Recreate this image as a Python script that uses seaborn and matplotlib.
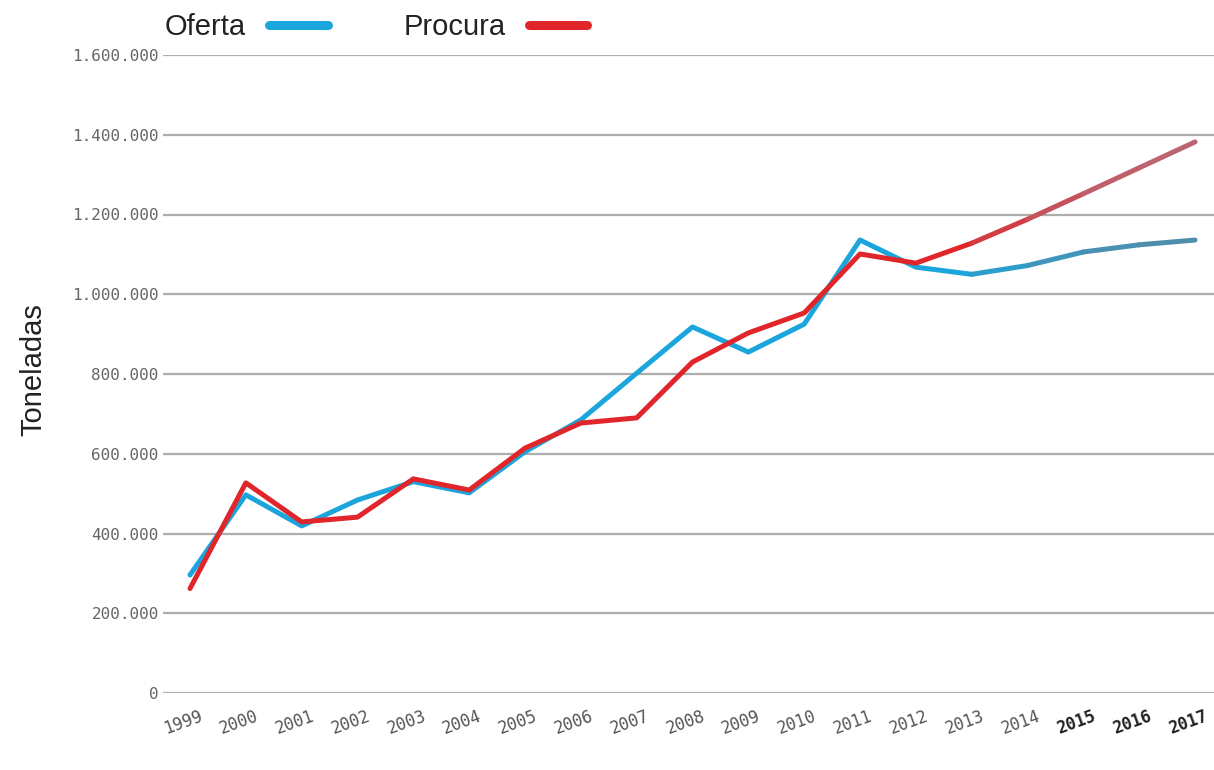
import numpy as np
import pandas as pd
import matplotlib.pyplot as plt
import matplotlib.colors as mcolors
import matplotlib.transforms as mtransforms
from matplotlib.lines import Line2D
from matplotlib.ticker import FuncFormatter
import seaborn as sns

# Values (tonnes)
years = [1999, 2000, 2001, 2002, 2003, 2004, 2005, 2006, 2007, 2008,
         2009, 2010, 2011, 2012, 2013, 2014, 2015, 2016, 2017]
oferta = [296000, 497000, 419000, 484000, 530000, 502000, 605000, 685000, 802000, 918000,
          855000, 925000, 1136000, 1068000, 1050000, 1072000, 1106000, 1124000, 1136000]
procura = [262000, 527000, 429000, 441000, 537000, 509000, 614000, 677000, 690000, 830000,
           903000, 953000, 1101000, 1078000, 1128000, 1188000, 1252000, 1317000, 1382000]
bold_years = [2015, 2016, 2017]
first_proj_year = 2013

df = pd.DataFrame({"ano": years, "Oferta": oferta, "Procura": procura})

blue, blue_fade = "#1AA6DC", "#4F8DAD"
red, red_fade = "#E0262B", "#BC6470"

sns.set_theme(style="white")
plt.rcParams["font.family"] = ["Liberation Sans", "DejaVu Sans"]

fig = plt.figure(figsize=(12.14, 7.70), dpi=100)
ax = fig.add_axes([163 / 1214, 1 - 693 / 770, 1 - 163 / 1214, (693 - 55) / 770])

hist = df[df["ano"] <= first_proj_year]
sns.lineplot(data=hist, x="ano", y="Oferta", color=blue, lw=3.6, ax=ax,
             solid_capstyle="round", solid_joinstyle="round")
sns.lineplot(data=hist, x="ano", y="Procura", color=red, lw=3.6, ax=ax,
             solid_capstyle="round", solid_joinstyle="round")

# projected years fade towards muted colours
proj = df[df["ano"] >= first_proj_year].reset_index(drop=True)
fade = [0.35, 0.7, 0.9, 1.0]
for i in range(len(proj) - 1):
    seg = proj.iloc[i:i + 2]
    t = fade[min(i, len(fade) - 1)]
    cb = (1 - t) * np.array(mcolors.to_rgb(blue)) + t * np.array(mcolors.to_rgb(blue_fade))
    cr = (1 - t) * np.array(mcolors.to_rgb(red)) + t * np.array(mcolors.to_rgb(red_fade))
    ax.plot(seg["ano"], seg["Oferta"], color=cb, lw=3.6, solid_capstyle="round")
    ax.plot(seg["ano"], seg["Procura"], color=cr, lw=3.6, solid_capstyle="round")

ax.set_xlim(1999 - 27 / 55.83, 2017 + 19 / 55.83)
ax.set_ylim(0, 1600000)
ax.set_yticks(np.arange(0, 1600001, 200000))
ax.yaxis.set_major_formatter(FuncFormatter(lambda v, p: f"{v:,.0f}".replace(",", ".")))
ax.set_xticks(years)
ax.set_xticklabels([str(y) for y in years])
ax.grid(axis="y", color="#adadad", lw=1.6)
ax.grid(axis="x", visible=False)
for s in ax.spines.values():
    s.set_visible(False)
ax.tick_params(axis="both", length=0)
ax.tick_params(axis="y", pad=3, labelsize=11.5, labelcolor="#666666")
ax.tick_params(axis="x", pad=10, labelsize=12, labelcolor="#555555")
for lab in ax.get_yticklabels():
    lab.set_family("DejaVu Sans Mono")
shift = mtransforms.ScaledTranslation(-7 / 100, 0, fig.dpi_scale_trans)
for lab, y in zip(ax.get_xticklabels(), years):
    lab.set_family("DejaVu Sans Mono")
    lab.set_rotation(20)
    lab.set_ha("center")
    lab.set_transform(lab.get_transform() + shift)
    if y in bold_years:
        lab.set_fontweight("bold")
        lab.set_color("#222222")
ax.set_xlabel("")
ax.set_ylabel("")
fig.text(33 / 1214, 1 - 370 / 770, "Toneladas", rotation=90, ha="center", va="center",
         fontsize=21, color="#222222")

handles = [Line2D([], [], color=blue, lw=6.5, solid_capstyle="round"),
           Line2D([], [], color=red, lw=6.5, solid_capstyle="round")]
fig.legend(handles, ["Oferta", "Procura"], loc="center left",
           bbox_to_anchor=(165 / 1214, 1 - 27 / 770), ncol=2, frameon=False,
           markerfirst=False, fontsize=21, handlelength=2.0, handletextpad=0.8,
           columnspacing=2.6, borderpad=0, borderaxespad=0, labelcolor="#222222")

fig.savefig("out.png", dpi=100)
